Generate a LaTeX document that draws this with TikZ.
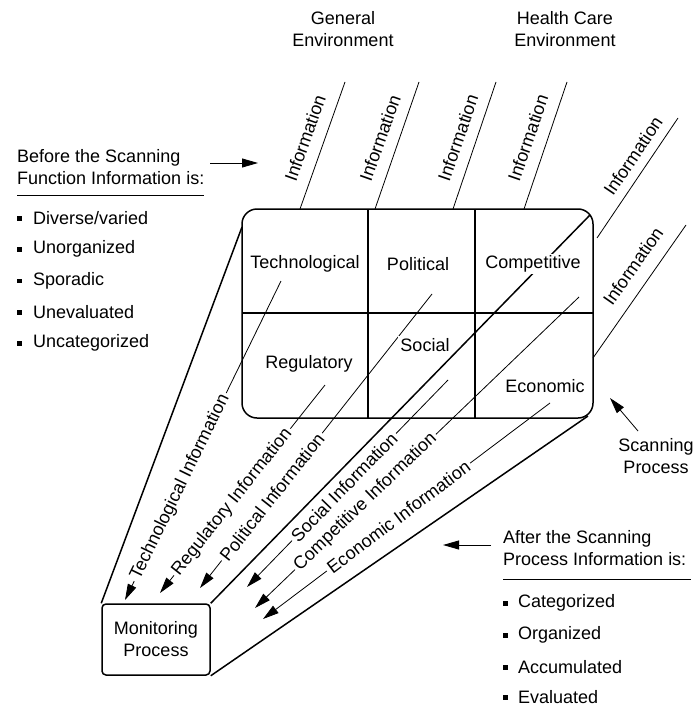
\documentclass[tikz,border=0pt]{standalone}
\usepackage{fontspec}
\setmainfont{Liberation Sans}
\usetikzlibrary{arrows.meta}
\tikzset{
  txt/.style={font=\fontsize{18}{22}\selectfont, inner sep=1pt},
  boxline/.style={line width=1.5pt},
  thinline/.style={line width=0.8pt},
  arr/.style={-{Triangle[length=16pt,width=9pt]}},
  lbl/.style={txt, fill=white, sloped, inner sep=2.5pt},
  cell/.style={txt, fill=white, inner sep=2pt},
  bul/.style={fill=black, minimum size=4.5pt, inner sep=0pt},
  infolbl/.style={txt}
}
\begin{document}
\begin{tikzpicture}[x=1pt,y=-1pt]
\useasboundingbox (0,0) rectangle (695,706);

% headers
\node[txt, align=center] (genenv) at (343,29) {General\\Environment};
\node[txt, align=center] (hcenv) at (565,29) {Health Care\\Environment};

% incoming information lines
\coordinate (i1a) at (300,209); \coordinate (i1b) at (345,82);
\coordinate (i2a) at (375,209); \coordinate (i2b) at (419,82);
\coordinate (i3a) at (453,209); \coordinate (i3b) at (496,82);
\coordinate (i4a) at (524,209); \coordinate (i4b) at (567,82);
\coordinate (i5a) at (597,238); \coordinate (i5b) at (678,118);
\coordinate (i6a) at (593,358); \coordinate (i6b) at (686,225);
\draw[thinline] (i1a) -- (i1b);
\draw[thinline] (i2a) -- (i2b);
\draw[thinline] (i3a) -- (i3b);
\draw[thinline] (i4a) -- (i4b);
\draw[thinline] (i5a) -- (i5b);
\draw[thinline] (i6a) -- (i6b);
\node[infolbl, rotate=70.5] (inf1) at (305,138) {Information};
\node[infolbl, rotate=70.5] (inf2) at (380,138) {Information};
\node[infolbl, rotate=71] (inf3) at (458,138) {Information};
\node[infolbl, rotate=71] (inf4) at (528,138) {Information};
\node[infolbl, rotate=56] (inf5) at (633,156) {Information};
\node[infolbl, rotate=55] (inf6) at (633,266) {Information};

% monitoring box
\node[draw, boxline, rounded corners=4pt, minimum width=108pt, minimum height=71pt,
      txt, align=center] (mon) at (156,639.5) {Monitoring\\Process};

% funnel lines
\coordinate (gl) at (242,227);
\coordinate (gtr) at (590,215);
\coordinate (gbr) at (588,416);
\draw[boxline] (mon.north west) -- (gl);
\draw[boxline] (mon.north east) -- (gtr);
\draw[boxline] (mon.south east) -- (gbr);

% categorized information lines
\coordinate (tS) at (281,281); \coordinate (tE) at (125,600);
\coordinate (rS) at (325,385); \coordinate (rE) at (160,593);
\coordinate (pS) at (432,294); \coordinate (pE) at (200,588);
\coordinate (sS) at (448,380); \coordinate (sE) at (247,587);
\coordinate (cS) at (579,297); \coordinate (cE) at (255,608);
\coordinate (eS) at (550,403); \coordinate (eE) at (263,619);
\draw[thinline, arr] (tS) -- node[lbl, pos=0.646] (tl) {Technological Information} (tE);
\draw[thinline, arr] (rS) -- node[lbl, pos=0.5625] (rl) {Regulatory Information} (rE);
\draw[thinline, arr] (pS) -- node[lbl, pos=0.69] (pl) {Political Information} (pE);
\draw[thinline, arr] (sS) -- node[lbl, pos=0.517] (sl) {Social Information} (sE);
\draw[thinline, arr] (cS) -- node[lbl, pos=0.659] (cl) {Competitive Information} (cE);
\draw[thinline, arr] (eS) -- node[lbl, pos=0.528] (el) {Economic Information} (eE);

% grid
\draw[boxline, rounded corners=15pt] (242,209) rectangle (593,418);
\coordinate (v1t) at (368,209); \coordinate (v1b) at (368,418);
\coordinate (v2t) at (475,209); \coordinate (v2b) at (475,418);
\coordinate (hl) at (242,313); \coordinate (hr) at (593,313);
\draw[boxline] (v1t) -- (v1b);
\draw[boxline] (v2t) -- (v2b);
\draw[boxline] (hl) -- (hr);
\node[cell] (tech) at (305,264) {Technological};
\node[cell] (pol) at (418,264) {Political};
\node[cell] (comp) at (533,264) {Competitive};
\node[cell] (reg) at (309,364) {Regulatory};
\node[cell] (soc) at (425,345) {Social};
\node[cell] (eco) at (545,386) {Economic};

% before block
\node[txt, align=left, anchor=west] (before) at (16,167.5) {Before the Scanning\\Function Information is:};
\coordinate (bu1) at (17,195); \coordinate (bu2) at (204,195);
\draw[line width=0.6pt] (bu1) -- (bu2);
\coordinate (ba1) at (210,163); \coordinate (ba2) at (258,163);
\draw[thinline, arr] (ba1) -- (ba2);
\node[bul] (bb1) at (19.5,218.5) {};
\node[bul] (bb2) at (19.5,249.5) {};
\node[bul] (bb3) at (19.5,281) {};
\node[bul] (bb4) at (19.5,312.5) {};
\node[bul] (bb5) at (19.5,343.5) {};
\node[txt, anchor=west] (bt1) at (32,218) {Diverse/varied};
\node[txt, anchor=west] (bt2) at (32,249) {Unorganized};
\node[txt, anchor=west] (bt3) at (32,281) {Sporadic};
\node[txt, anchor=west] (bt4) at (32,312) {Unevaluated};
\node[txt, anchor=west] (bt5) at (32,343) {Uncategorized};

% scanning process
\node[txt, align=center] (scan) at (656,456) {Scanning\\Process};
\coordinate (sa1) at (638,431); \coordinate (sa2) at (610,398);
\draw[thinline, arr] (sa1) -- (sa2);

% after block
\node[txt, align=left, anchor=west] (after) at (502,548.5) {After the Scanning\\Process Information is:};
\coordinate (au1) at (503,579); \coordinate (au2) at (691,579);
\draw[line width=0.6pt] (au1) -- (au2);
\coordinate (aa1) at (491,545); \coordinate (aa2) at (443,545);
\draw[thinline, arr] (aa1) -- (aa2);
\node[bul] (ab1) at (505.5,603.5) {};
\node[bul] (ab2) at (505.5,635.5) {};
\node[bul] (ab3) at (505.5,667.5) {};
\node[bul] (ab4) at (505.5,697.5) {};
\node[txt, anchor=west] (at1) at (517,603) {Categorized};
\node[txt, anchor=west] (at2) at (517,635) {Organized};
\node[txt, anchor=west] (at3) at (517,667) {Accumulated};
\node[txt, anchor=west] (at4) at (517,697) {Evaluated};
\end{tikzpicture}
\end{document}
